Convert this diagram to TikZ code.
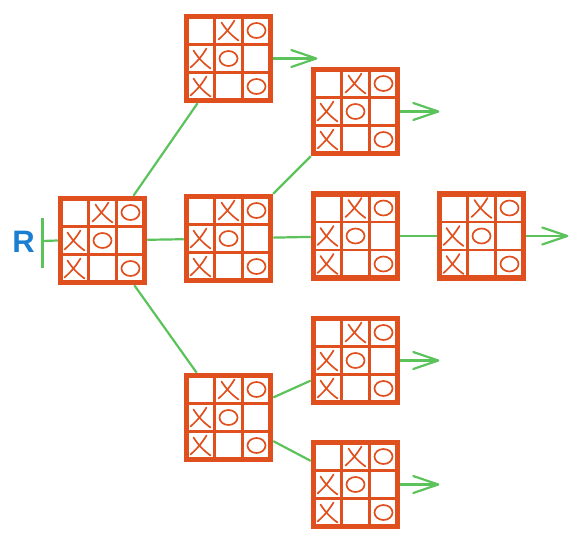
\documentclass[tikz,border=0pt]{standalone}
\usepackage{fontspec}
\setsansfont{Liberation Sans}
\usetikzlibrary{arrows.meta}
\definecolor{brd}{HTML}{E0501E}
\definecolor{lnk}{HTML}{5CC35C}
\definecolor{rblue}{HTML}{1A7FD0}
\newcommand{\myX}[2]{\draw[xo] (#1,#2) ++(-7,-8) to[bend right=10] ++(17,18);
  \draw[xo] (#1,#2) ++(6,-10) to[bend left=8] ++(-16,19);}
\newcommand{\myO}[2]{\draw[xo,rotate around={-20:(#1,#2)}] (#1,#2) ellipse[x radius=9, y radius=7.5];}
\newcommand{\chev}[1]{\draw[link, line cap=round, line join=round] (#1) ++(-25,-8.5) -- (#1) -- ++(-25,8.5);}
\tikzset{
  xo/.style={draw=brd, line width=1.7pt, line cap=round},
  board/.style={rectangle, draw=brd, line width=5.5pt, minimum size=84pt, inner sep=0pt,
    path picture={
      \begin{scope}[shift={(path picture bounding box.center)}]
        \draw[brd, line width=2.4pt] (-14,-45) -- (-14,45) (14,-45) -- (14,45)
             (-45,-14) -- (45,-14) (-45,14) -- (45,14);
        \myX{0}{-28}\myO{28}{-28}
        \myX{-28}{0}\myO{0}{0}
        \myX{-28}{28}\myO{28}{28}
      \end{scope}
    }},
  link/.style={draw=lnk, line width=2.2pt}
}
\begin{document}
\begin{tikzpicture}[x=1pt,y=-1pt]
\useasboundingbox (0,0) rectangle (580,546);
\node[board] (root) at (102.5,240.5) {};
\node[board] (top) at (228.5,58.5) {};
\node[board] (mid) at (228.5,238.5) {};
\node[board] (bot) at (228.5,417.5) {};
\node[board] (ca) at (355.5,111.5) {};
\node[board] (cb) at (355.5,236) {};
\node[board] (cc) at (355.5,360.5) {};
\node[board] (cd) at (355.5,484.5) {};
\node[board] (ce) at (481.5,236) {};
\node[font=\sffamily\bfseries\fontsize{31}{31}\selectfont, text=rblue, inner sep=0pt] (r) at (23.5,241.5) {R};
\coordinate (bt) at (42,218);
\coordinate (bb) at (42,268);
\coordinate (bm) at (42,241);
\draw[lnk, line width=3pt] (bt) -- (bb);
\draw[link] (bm) -- (root.west);
\draw[link] (root) -- (top);
\draw[link] (root) -- (mid);
\draw[link] (root) -- (bot);
\draw[link] (mid) -- (ca);
\draw[link] (mid) -- (cb);
\draw[link] (cb) -- (ce);
\draw[link] (bot) -- (cc);
\draw[link] (bot) -- (cd);
\draw[link] (top.east) -- ++(43,0) coordinate (e1); \chev{e1}
\draw[link] (ca.east) -- ++(38,0) coordinate (e2); \chev{e2}
\draw[link] (ce.east) -- ++(41,0) coordinate (e3); \chev{e3}
\draw[link] (cc.east) -- ++(38,0) coordinate (e4); \chev{e4}
\draw[link] (cd.east) -- ++(38,0) coordinate (e5); \chev{e5}
\end{tikzpicture}
\end{document}
